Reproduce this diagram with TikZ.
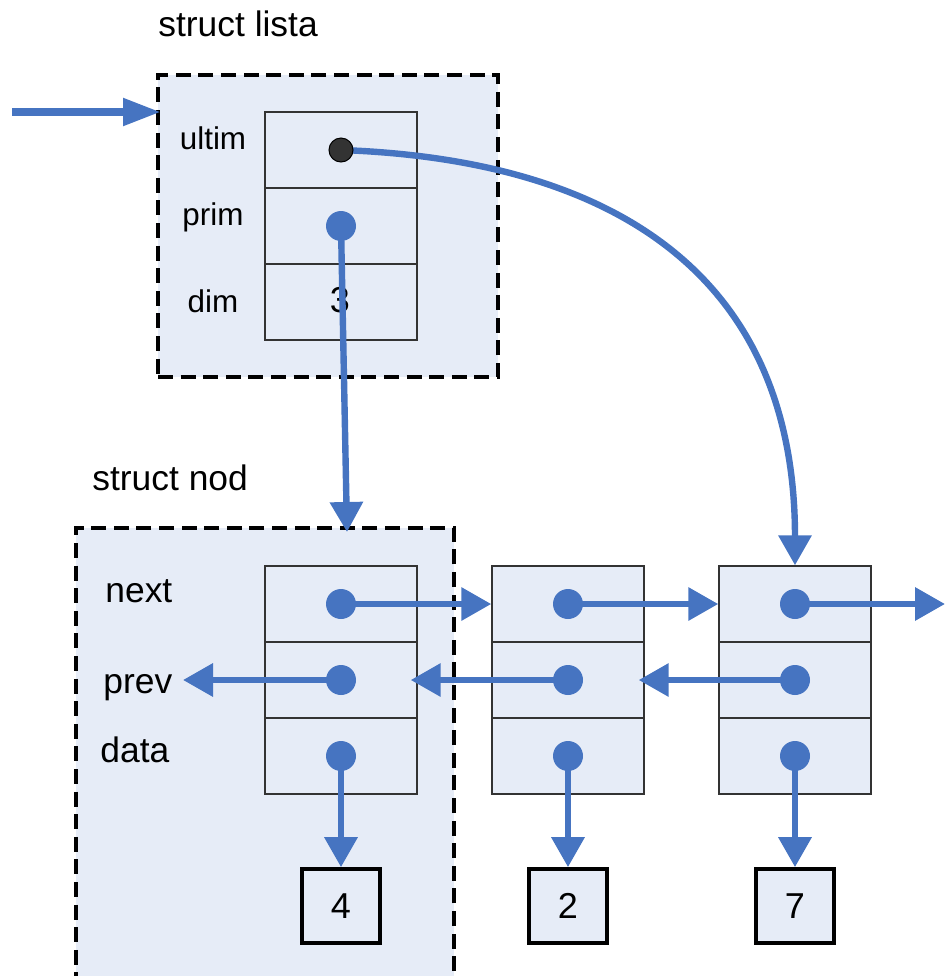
\documentclass[tikz,border=0pt]{standalone}
\usepackage{fontspec}
\setmainfont{Liberation Sans}
\usetikzlibrary{arrows.meta}
\definecolor{lb}{HTML}{4674C1}
\definecolor{pale}{HTML}{E6ECF7}
\definecolor{dk}{HTML}{333333}
\begin{document}
\begin{tikzpicture}[x=0.5pt,y=-0.5pt,
  dashbox/.style={draw=black, line width=1.9pt, dash pattern=on 7.5pt off 3.8pt, fill=pale, inner sep=0pt},
  cell/.style={draw=black!80, line width=0.7pt, fill=pale, minimum width=76pt, minimum height=38pt, inner sep=0pt},
  bdot/.style={circle, fill=lb, minimum size=15pt, inner sep=0pt},
  kdot/.style={circle, fill=dk, draw=black, line width=0.5pt, minimum size=12pt, inner sep=0pt},
  ptr/.style={draw=lb, line width=3.2pt, -{Triangle[length=15pt,width=16pt]}},
  entry/.style={draw=lb, line width=4pt, -{Triangle[length=19pt,width=13pt]}},
  valbox/.style={draw=black, line width=1.8pt, fill=pale, minimum width=39pt, minimum height=37pt, inner sep=0pt, font=\fontsize{18}{20}\selectfont},
  lbl/.style={font=\fontsize{15.7}{18}\selectfont, anchor=base, inner sep=0pt},
  blbl/.style={font=\fontsize{17.7}{20}\selectfont, anchor=base west, inner sep=0pt}]
\useasboundingbox (0,0) rectangle (945,976);
\clip (0,0) rectangle (945,976);

% containers
\node[dashbox, minimum width=170pt, minimum height=151pt] (listabox) at (328,226) {};
\node[dashbox, minimum width=189pt, minimum height=236pt] (nodbox) at (265,764) {};

% titles
\node[blbl] (t1) at (158,36) {struct lista};
\node[blbl] (t2) at (92,490) {struct nod};

% lista record
\node[cell] (cu) at (341,150) {};
\node[cell] (cp) at (341,226) {};
\node[cell] (cd) at (341,302) {};
\node[lbl] (lult) at (213,149) {ultim};
\node[lbl] (lprim) at (213,225) {prim};
\node[lbl] (ldim) at (213,312) {dim};
\node[lbl, font=\fontsize{18}{20}\selectfont] (three) at (340,312) {3};

% node records
\foreach \i/\x in {1/341,2/568,3/795}{
  \node[cell] (c\i n) at (\x,604) {};
  \node[cell] (c\i p) at (\x,680) {};
  \node[cell] (c\i d) at (\x,756) {};
}
\node[blbl] (lnext) at (105,602) {next};
\node[blbl] (lprev) at (103,693) {prev};
\node[blbl] (ldata) at (100,762) {data};

% value boxes
\node[valbox] (v1) at (341,906) {4};
\node[valbox] (v2) at (568,906) {2};
\node[valbox] (v3) at (795,906) {7};

% dots
\node[bdot] (dp) at (cp) {};
\foreach \i in {1,2,3}{
  \node[bdot] (d\i n) at (c\i n) {};
  \node[bdot] (d\i p) at (c\i p) {};
  \node[bdot] (d\i d) at (c\i d) {};
}

% free ends
\coordinate (ein) at (12,112);
\coordinate (eout) at (161,112);
\coordinate (primend) at (347,532);
\coordinate (nextout) at (945,604);
\coordinate (prevout) at (183,680);

% connectors
\draw[entry] (ein) -- (eout);
\draw[ptr] (dp.center) -- (primend);
\draw[ptr] (d1n.center) -- (c2n.west);
\draw[ptr] (d2n.center) -- (c3n.west);
\draw[ptr] (d3n.center) -- (nextout);
\draw[ptr] (d1p.center) -- (prevout);
\draw[ptr] (d2p.center) -- ([xshift=-3.5pt]c1p.east);
\draw[ptr] (d3p.center) -- ([xshift=-3pt]c2p.east);
\draw[ptr] (d1d.center) -- (v1.north);
\draw[ptr] (d2d.center) -- (v2.north);
\draw[ptr] (d3d.center) -- (v3.north);
\coordinate (ucenter) at (cu);
\draw[ptr] (ucenter) .. controls (620,160) and (795,280) .. (c3n.north);
\node[kdot] (du) at (cu) {};
\end{tikzpicture}
\end{document}
